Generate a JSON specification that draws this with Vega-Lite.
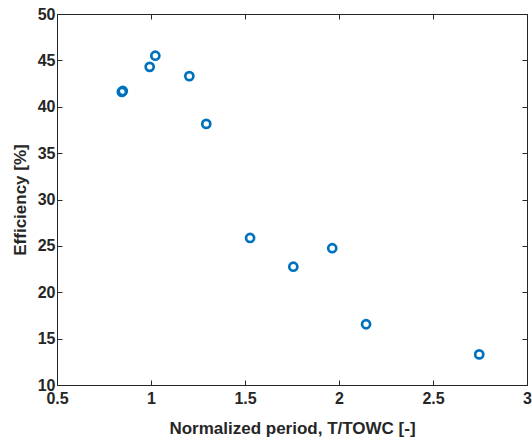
{
  "$schema": "https://vega.github.io/schema/vega-lite/v6.json",
  "width": 470,
  "height": 371,
  "autosize": "none",
  "padding": {"left": 57, "top": 14, "right": 5, "bottom": 57},
  "background": "white",
  "config": {
    "view": {"stroke": "#262626", "strokeWidth": 1},
    "font": "Liberation Sans",
    "axis": {
      "domainColor": "#262626",
      "tickColor": "#262626",
      "labelColor": "#262626",
      "titleColor": "#262626",
      "labelFont": "Liberation Sans",
      "titleFont": "Liberation Sans",
      "labelFontSize": 16,
      "labelFontWeight": "bold",
      "titleFontSize": 17,
      "titleFontWeight": "bold",
      "grid": false,
      "tickSize": -5
    }
  },
  "data": {
    "values": [
      {"t": 0.845, "eff": 41.6},
      {"t": 0.85, "eff": 41.7},
      {"t": 0.993, "eff": 44.3},
      {"t": 1.023, "eff": 45.5},
      {"t": 1.204, "eff": 43.3},
      {"t": 1.294, "eff": 38.15},
      {"t": 1.527, "eff": 25.85},
      {"t": 1.757, "eff": 22.75},
      {"t": 1.964, "eff": 24.75},
      {"t": 2.144, "eff": 16.55},
      {"t": 2.746, "eff": 13.3}
    ]
  },
  "layer": [
    {
      "mark": {"type": "point", "filled": false, "color": "#0072BD", "strokeWidth": 2.7, "size": 65, "opacity": 1},
      "encoding": {
        "x": {
          "field": "t", "type": "quantitative",
          "scale": {"domain": [0.5, 3], "nice": false, "zero": false},
          "axis": {"orient": "bottom", "values": [0.5, 1, 1.5, 2, 2.5, 3], "format": "~g", "labelPadding": 10, "title": "Normalized period, T/TOWC [-]", "titlePadding": 14, "labelFlush": false}
        },
        "y": {
          "field": "eff", "type": "quantitative",
          "scale": {"domain": [10, 50], "nice": false, "zero": false},
          "axis": {"orient": "left", "values": [10, 15, 20, 25, 30, 35, 40, 45, 50], "format": "~g", "labelPadding": 7, "title": "Efficiency [%]", "titlePadding": 8, "labelFlush": false}
        }
      }
    },
    {
      "mark": {"type": "point", "opacity": 0},
      "encoding": {
        "x": {"field": "t", "type": "quantitative", "axis": {"orient": "top", "values": [0.5, 1, 1.5, 2, 2.5, 3], "labels": false, "title": null}},
        "y": {"field": "eff", "type": "quantitative", "axis": {"orient": "right", "values": [10, 15, 20, 25, 30, 35, 40, 45, 50], "labels": false, "title": null}}
      }
    }
  ],
  "resolve": {"axis": {"x": "independent", "y": "independent"}}
}
